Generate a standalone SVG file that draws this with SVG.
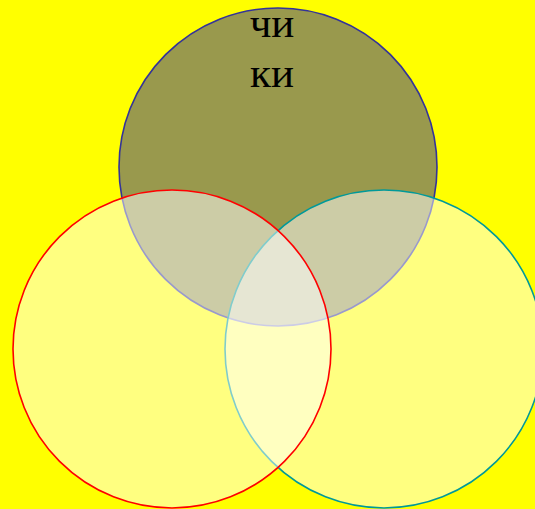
<svg xmlns="http://www.w3.org/2000/svg" width="535" height="509" viewBox="0 0 535 509">
<style>
.c{stroke-width:1.6}
.low{fill:#ffffff;fill-opacity:0.5}
.t{font-family:"Liberation Serif","DejaVu Serif",serif;font-size:43px;fill:#000;text-anchor:middle}
</style>
<rect width="535" height="509" fill="#ffff00"/>
<g id="top">
<circle class="c" cx="278" cy="167" r="159" fill="#333399" fill-opacity="0.5" stroke="#333399"/>
</g>
<g id="right">
<circle class="c low" cx="384" cy="349" r="159" stroke="#009999"/>
</g>
<g id="left">
<circle class="c low" cx="172" cy="349" r="159" stroke="#ff0000"/>
</g>
<g id="labels">
<text class="t" x="272" y="37">чи</text>
<text class="t" x="272" y="87">ки</text>
</g>
</svg>
